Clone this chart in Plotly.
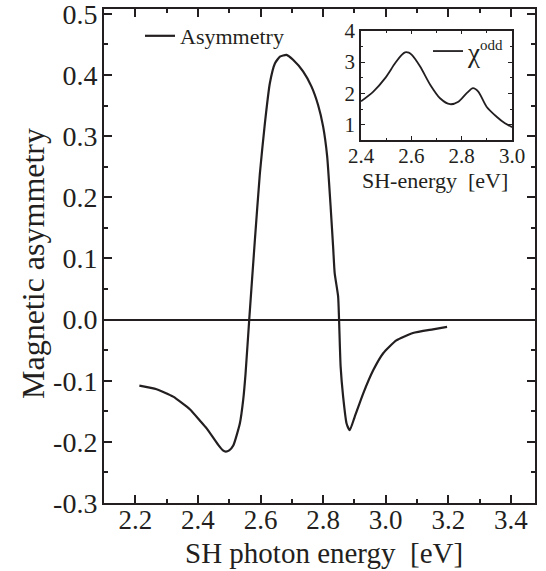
import plotly.graph_objects as go

# ---- main curve: magnetic asymmetry vs SH photon energy ----
energy = [2.213, 2.268, 2.321, 2.375, 2.406, 2.428, 2.465, 2.480, 2.489, 2.500, 2.513,
          2.534, 2.545, 2.552, 2.564, 2.582, 2.598, 2.614, 2.630, 2.646, 2.662,
          2.683, 2.704, 2.736, 2.763, 2.784, 2.800, 2.813, 2.824, 2.832, 2.837,
          2.848, 2.851, 2.856, 2.864, 2.875, 2.885, 2.901, 2.928, 2.960, 2.992,
          3.034, 3.087, 3.151, 3.196]
asym = [-0.108, -0.114, -0.126, -0.147, -0.165, -0.178, -0.205, -0.214, -0.216, -0.214, -0.206,
        -0.170, -0.130, -0.090, 0.000, 0.130, 0.239, 0.321, 0.387, 0.419, 0.430,
        0.433, 0.425, 0.406, 0.381, 0.351, 0.316, 0.267, 0.185, 0.119, 0.076,
        0.038, 0.000, -0.077, -0.126, -0.170, -0.181, -0.159, -0.121, -0.083, -0.055,
        -0.034, -0.022, -0.016, -0.012]

# ---- inset curve: chi odd vs SH energy ----
inset_energy = [2.400, 2.449, 2.496, 2.536, 2.562, 2.575, 2.590, 2.602, 2.635, 2.675,
                2.714, 2.754, 2.787, 2.820, 2.845, 2.866, 2.899, 2.939, 2.972, 3.000]
chi_odd = [1.75, 2.06, 2.49, 2.97, 3.23, 3.31, 3.30, 3.23, 2.86, 2.28,
           1.85, 1.66, 1.74, 2.01, 2.17, 2.06, 1.58, 1.26, 1.05, 0.93]

# ---- tick labels ----
y_tick_vals = [-0.3, -0.2, -0.1, 0.0, 0.1, 0.2, 0.3, 0.4, 0.5]
y_tick_text = ["-0.3", "-0.2", "-0.1", "0.0", "0.1", "0.2", "0.3", "0.4", "0.5"]
x_tick_vals = [2.2, 2.4, 2.6, 2.8, 3.0, 3.2, 3.4]
x_tick_text = ["2.2", "2.4", "2.6", "2.8", "3.0", "3.2", "3.4"]
inset_x_tick_vals = [2.4, 2.6, 2.8, 3.0]
inset_x_tick_text = ["2.4", "2.6", "2.8", "3.0"]
inset_y_tick_vals = [1, 2, 3, 4]
inset_y_tick_text = ["1", "2", "3", "4"]

INK = "#231f20"
FONT = "Liberation Serif"

W, H = 546, 571
L, R, T, B = 104, 11, 9, 68
pw, ph = W - L - R, H - T - B

def px2paper_x(px):
    return (px - L) / pw

def px2paper_y(py):
    return (H - B - py) / ph

fig = go.Figure()
fig.add_trace(go.Scatter(x=energy, y=asym, mode="lines", name="Asymmetry",
                         line=dict(color=INK, width=2.2, shape="spline", smoothing=0.5),
                         xaxis="x", yaxis="y", legend="legend"))
fig.add_trace(go.Scatter(x=inset_energy, y=chi_odd, mode="lines",
                         name="χ<sup><span style='font-size:15px'>odd</span></sup>",
                         line=dict(color=INK, width=1.8, shape="spline", smoothing=0.8),
                         xaxis="x2", yaxis="y2", legend="legend2"))

axis_common = dict(showline=True, linecolor=INK, mirror="allticks", ticks="inside",
                   tickcolor=INK, showgrid=False, zeroline=False, automargin=False,
                   ticklabeloverflow="allow")

fig.update_layout(
    width=W, height=H,
    margin=dict(l=L, r=R, t=T, b=B, pad=0, autoexpand=False),
    paper_bgcolor="white", plot_bgcolor="white",
    font=dict(family=FONT, color=INK, size=26),
    xaxis=dict(**axis_common, range=[2.1, 3.477], tickmode="array",
               tickvals=x_tick_vals, ticktext=x_tick_text, linewidth=2,
               ticklen=8, tickwidth=1.5, ticklabelstandoff=-8,
               minor=dict(ticks="inside", dtick=0.1, tick0=2.2, ticklen=4,
                          tickwidth=1.5, tickcolor=INK, showgrid=False),
               tickfont=dict(size=27)),
    yaxis=dict(**{**axis_common, "zeroline": True}, range=[-0.3, 0.508], tickmode="array",
               tickvals=y_tick_vals, ticktext=y_tick_text, linewidth=2,
               zerolinecolor=INK, zerolinewidth=2,
               ticklen=8, tickwidth=1.5, ticklabelstandoff=-1,
               minor=dict(ticks="inside", dtick=0.05, tick0=0, ticklen=4,
                          tickwidth=1.5, tickcolor=INK, showgrid=False),
               tickfont=dict(size=28)),
    xaxis2=dict(**axis_common, range=[2.4, 3.0], anchor="y2",
                domain=[px2paper_x(361), px2paper_x(512)],
                tickmode="array", tickvals=inset_x_tick_vals, ticktext=inset_x_tick_text,
                linewidth=1.5, ticklen=4, tickwidth=1.2, ticklabelstandoff=-4,
                minor=dict(ticks="inside", dtick=0.1, tick0=2.4, ticklen=2.5,
                           tickwidth=1.2, tickcolor=INK, showgrid=False),
                tickfont=dict(size=21)),
    yaxis2=dict(**axis_common, range=[0.52, 4.0], anchor="x2",
                domain=[px2paper_y(140), px2paper_y(30.7)],
                tickmode="array", tickvals=inset_y_tick_vals, ticktext=inset_y_tick_text,
                linewidth=1.5, ticklen=4, tickwidth=1.2,
                minor=dict(ticks="inside", dtick=0.5, tick0=0, ticklen=2.5,
                           tickwidth=1.2, tickcolor=INK, showgrid=False),
                tickfont=dict(size=21)),
    legend=dict(x=px2paper_x(140), y=px2paper_y(15), xanchor="left", yanchor="top",
                bgcolor="rgba(0,0,0,0)", borderwidth=0, font=dict(size=22),
                itemwidth=30, tracegroupgap=0),
    legend2=dict(x=px2paper_x(428), y=px2paper_y(27), xanchor="left", yanchor="top",
                 bgcolor="rgba(0,0,0,0)", borderwidth=0, font=dict(size=27),
                 itemwidth=30),
    showlegend=True,
    annotations=[
        dict(text="SH photon energy  [eV]", xref="paper", yref="paper",
             x=px2paper_x(324), y=px2paper_y(553), xanchor="center", yanchor="middle",
             showarrow=False, font=dict(size=29)),
        dict(text="Magnetic asymmetry", xref="paper", yref="paper", textangle=-90,
             x=px2paper_x(33), y=px2paper_y(264), xanchor="center", yanchor="middle",
             showarrow=False, font=dict(size=32)),
        dict(text="SH-energy  [eV]", xref="paper", yref="paper",
             x=px2paper_x(435), y=px2paper_y(180), xanchor="center", yanchor="middle",
             showarrow=False, font=dict(size=22)),
    ],
)

fig.write_html("out.html", config={"displayModeBar": False},
               post_script="document.body.style.margin='0';")
